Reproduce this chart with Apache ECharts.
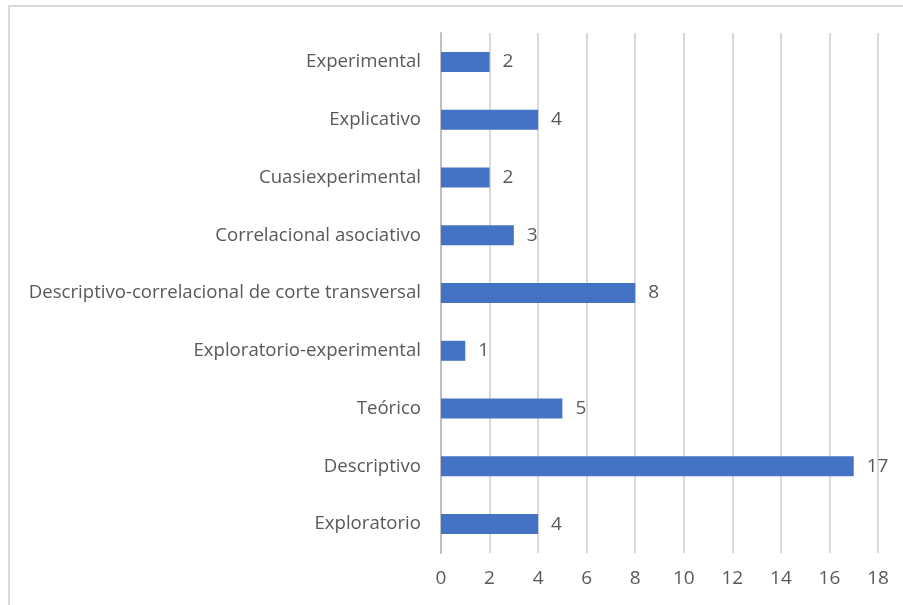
<!DOCTYPE html>
<html>
<head>
<meta charset="utf-8">
<script src="https://cdn.jsdelivr.net/npm/echarts@6/dist/echarts.min.js"></script>
<style>
  html, body { margin: 0; padding: 0; background: #fff; }
  #chart { width: 903px; height: 605px; }
</style>
</head>
<body>
<div id="chart"></div>
<script>
// categories listed top to bottom
const categories = [
  'Experimental',
  'Explicativo',
  'Cuasiexperimental',
  'Correlacional asociativo',
  'Descriptivo-correlacional de corte transversal',
  'Exploratorio-experimental',
  'Teórico',
  'Descriptivo',
  'Exploratorio'
];
const counts = [2, 4, 2, 3, 8, 1, 5, 17, 4];
const xTicks = [0, 18, 2]; // min, max, step

const chart = echarts.init(document.getElementById('chart'));

const option = {
  animation: false,
  textStyle: { fontFamily: 'Open Sans' },
  graphic: [{
    type: 'rect',
    shape: { x: 9, y: 6, width: 1000, height: 1000 },
    style: { fill: 'none', stroke: '#d9d9d9', lineWidth: 2 },
    silent: true
  }],
  grid: { left: 441, right: 25, top: 33, bottom: 52 },
  xAxis: {
    type: 'value',
    min: xTicks[0],
    max: xTicks[1],
    interval: xTicks[2],
    axisLine: { show: false },
    axisTick: { show: false },
    splitLine: { lineStyle: { color: '#d9d9d9', width: 2 } },
    axisLabel: { color: '#595959', fontSize: 19, margin: 16 }
  },
  yAxis: {
    type: 'category',
    inverse: true,
    data: categories,
    axisLine: { lineStyle: { color: '#bfbfbf', width: 2 } },
    axisTick: { length: 6, lineStyle: { color: '#bfbfbf', width: 2 } },
    axisLabel: { color: '#595959', fontSize: 18.6, margin: 20 }
  },
  series: [{
    type: 'bar',
    data: counts,
    barWidth: 20,
    itemStyle: { color: '#4472C4' },
    label: {
      show: true,
      position: 'right',
      distance: 13,
      color: '#595959',
      fontSize: 19
    }
  }]
};

chart.setOption(option);
</script>
</body>
</html>
